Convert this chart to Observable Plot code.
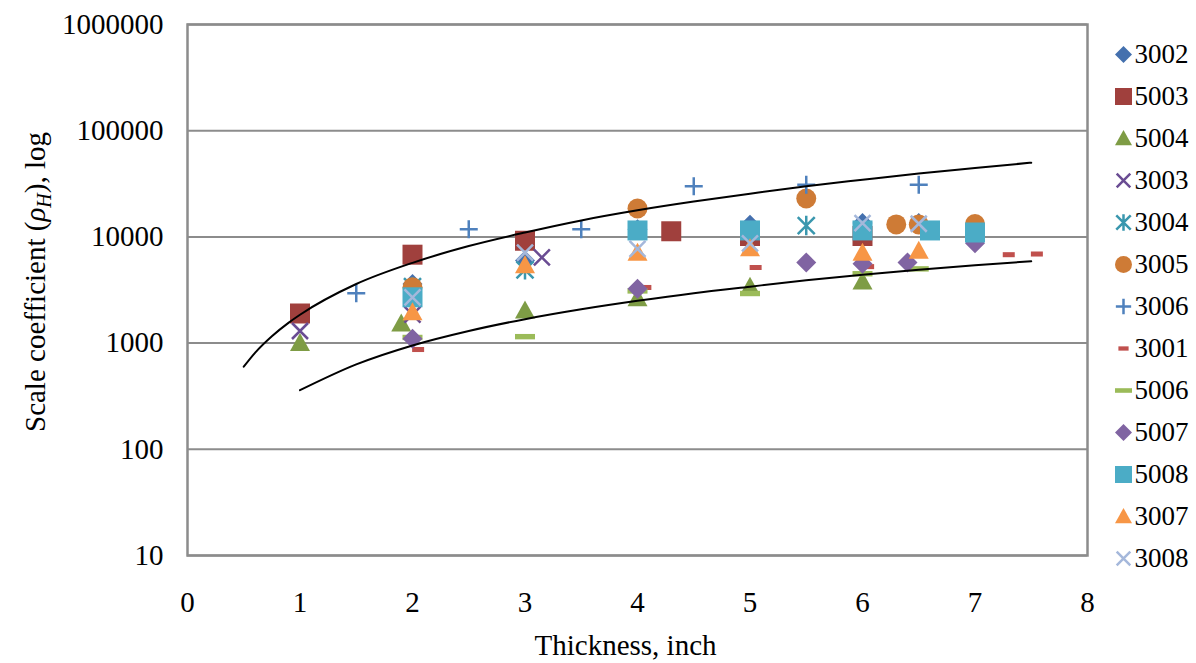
<!DOCTYPE html>
<html>
<head>
<meta charset="utf-8">
<script src="https://cdn.jsdelivr.net/npm/d3@7"></script>
<script src="https://cdn.jsdelivr.net/npm/@observablehq/plot@0.6"></script>
<style>
  body { margin: 0; background: #fff; }
  #wrap { position: relative; width: 1196px; height: 663px; }
  #legend { position: absolute; left: 1100px; top: 0; }
</style>
</head>
<body>
<div id="wrap"><div id="main"></div><div id="legend"></div></div>
<script>
// ---- data ----
const seriesNames = ["3002","5003","5004","3003","3004","3005","3006","3001","5006","5007","5008","3007","3008"];
const xTicks = [0,1,2,3,4,5,6,7,8];
const yTicks = [10,100,1000,10000,100000,1000000];

const s3002 = [[2,3600],[3,6000],[4,11800],[5,13000],[6,13500],[6.5,13500]];
const s5003 = [[1,1900],[2,6800],[3,9200],[4.3,11300],[5,10200],[6,10200]];
const s5004 = [[1,1000],[1.9,1530],[3,2030],[4,2650],[5,3400],[6,3800]];
const s3003 = [[1,1300],[2,1850],[3.15,6400]];
const s3004 = [[2,3400],[3,4900],[5.5,12800]];
const s3005 = [[2,3350],[4,18500],[5.5,23000],[6.3,13100],[6.5,13100],[7,13200]];
const s3006 = [[1.5,2950],[2.5,11800],[3.5,11800],[4.5,30000],[5.5,31000],[6.5,31000]];
const s3001 = [[2.05,870],[4.07,3340],[5.05,5150],[6.05,5250],[7.3,6800],[7.55,6900]];
const s5006 = [[2,1130],[3,1150],[4,3100],[5,2930],[6,4500],[6.5,5000]];
const s5007 = [[2,1100],[4,3250],[5.5,5750],[6,5600],[6.4,5750],[7,8700]];
const s5008 = [[2,2700],[4,11500],[5,11500],[6,11500],[6.6,11500],[7,11000]];
const s3007 = [[2,1950],[3,5400],[4,7100],[5,7800],[6,7100],[6.5,7400]];
const s3008 = [[2,2700],[3,7100],[4,7700],[5,8700],[6,13500],[6.5,13300]];
const seriesData = [s3002,s5003,s5004,s3003,s3004,s3005,s3006,s3001,s5006,s5007,s5008,s3007,s3008];

const upperX = [0.5,0.6,0.75,0.9,1,1.5,2,2.5,3,3.5,4,4.5,5,5.5,6,6.5,7,7.5];
const upperY = [600,810,1160,1560,1850,3600,5700,8200,11000,14300,17800,21500,25500,30000,34500,39500,44500,50000];
const lowerX = [1,1.5,2,2.5,3,3.5,4,4.5,5,5.5,6,6.5,7,7.5];
const lowerY = [360,630,950,1300,1680,2080,2500,2950,3400,3900,4400,4900,5400,5900];

// ---- styles ----
const seriesColors = ["#4470AE","#A0403D","#7E9C45","#6A4C93","#3A97AE","#CE7B36","#4F81BD","#C0504D","#9BBB59","#8064A2","#4BACC6","#F79646","#A5B8DB"];
const seriesShapes = ["diamond","square","triangle","times","asterisk","circle","plus","dashS","dashL","diamond","square","triangle","times"];
const shapeR = {diamond:10, square:10, triangle:10, times:8, asterisk:8.5, circle:10, plus:9, dashS:6, dashL:10};
const strokeShapes = new Set(["times","asterisk","plus"]);

function mk(fn){ return {draw(ctx,size){ const r=Math.sqrt(size/Math.PI); fn(ctx,r); }}; }
const SYM = {
  diamond: mk((c,r)=>{c.moveTo(0,-r);c.lineTo(r,0);c.lineTo(0,r);c.lineTo(-r,0);c.closePath();}),
  square: mk((c,r)=>{c.rect(-r,-r,2*r,2*r);}),
  triangle: mk((c,r)=>{c.moveTo(0,-r);c.lineTo(r,r*0.8);c.lineTo(-r,r*0.8);c.closePath();}),
  times: mk((c,r)=>{c.moveTo(-r,-r);c.lineTo(r,r);c.moveTo(r,-r);c.lineTo(-r,r);}),
  asterisk: mk((c,r)=>{c.moveTo(-r,-r);c.lineTo(r,r);c.moveTo(r,-r);c.lineTo(-r,r);c.moveTo(0,-r*1.15);c.lineTo(0,r*1.15);}),
  circle: mk((c,r)=>{c.moveTo(r,0);c.arc(0,0,r,0,2*Math.PI);}),
  plus: mk((c,r)=>{c.moveTo(-r,0);c.lineTo(r,0);c.moveTo(0,-r);c.lineTo(0,r);}),
  dashS: mk((c,r)=>{c.rect(-r,-r*0.42,2*r,r*0.84);}),
  dashL: mk((c,r)=>{c.rect(-r,-r*0.27,2*r,r*0.54);})
};

function dotOpts(i, scale){
  const shape = seriesShapes[i];
  const o = {symbol: SYM[shape], r: shapeR[shape]*scale};
  if (strokeShapes.has(shape)) { o.fill = "none"; o.stroke = seriesColors[i]; o.strokeWidth = 2.5; }
  else { o.fill = seriesColors[i]; o.stroke = "none"; }
  return o;
}

const FONT = "Liberation Serif, Times New Roman, serif";

const upper = upperX.map((x,i)=>({x, y: upperY[i]}));
const lower = lowerX.map((x,i)=>({x, y: lowerY[i]}));

const main = Plot.plot({
  width: 1196, height: 663,
  marginLeft: 187, marginRight: 109, marginTop: 24, marginBottom: 108,
  style: {fontFamily: FONT, fontSize: "29px", color: "#000", background: "#fff"},
  x: {domain: [0,8]},
  y: {type: "log", domain: [10, 1000000]},
  marks: [
    Plot.gridY(yTicks, {stroke: "#8c8c8c", strokeOpacity: 1, strokeWidth: 2}),
    Plot.frame({stroke: "#8c8c8c", strokeWidth: 2.5}),
    Plot.axisX({ticks: xTicks, tickSize: 0, tickPadding: 36, tickFormat: d => String(d), label: null, fontSize: 29}),
    Plot.axisY({ticks: yTicks, tickSize: 0, tickPadding: 24, tickFormat: d => String(d), label: null, fontSize: 29}),
    ...seriesData.map((s,i) => Plot.dot(s, {x: d => d[0], y: d => d[1], ...dotOpts(i, 1)})),
    Plot.line(upper, {x: "x", y: "y", curve: "monotone-x", stroke: "#000", strokeWidth: 2}),
    Plot.line(lower, {x: "x", y: "y", curve: "monotone-x", stroke: "#000", strokeWidth: 2}),
    Plot.text(["Thickness, inch"], {frameAnchor: "bottom", textAnchor: "middle", lineAnchor: "middle", dx: -12, dy: 90, fontSize: 29, fill: "#000"}),
    Plot.text(["Scale coefficient (ρH), log"], {
      frameAnchor: "left", textAnchor: "middle", lineAnchor: "middle",
      dx: -152, dy: -8, rotate: -90, fontSize: 29, fill: "#000",
      render(index, scales, values, dims, ctx, next) {
        const g = next(index, scales, values, dims, ctx);
        const t = g.querySelector("text");
        if (t) {
          const ns = "http://www.w3.org/2000/svg";
          t.textContent = "";
          const parts = [
            {s: "Scale coefficient ("},
            {s: "ρ", it: true},
            {s: "H", it: true, sub: true},
            {s: "), log", up: true}
          ];
          for (const p of parts) {
            const ts = document.createElementNS(ns, "tspan");
            ts.textContent = p.s;
            if (p.it) ts.setAttribute("font-style", "italic");
            if (p.sub) { ts.setAttribute("font-size", "20px"); ts.setAttribute("dy", "0.3em"); }
            if (p.up) { ts.setAttribute("dy", "-0.2em"); }
            t.appendChild(ts);
          }
        }
        return g;
      }
    })
  ]
});
document.getElementById("main").appendChild(main);

const legend = Plot.plot({
  width: 96, height: 663,
  marginLeft: 0, marginRight: 0, marginTop: 0, marginBottom: 0,
  style: {fontFamily: FONT, fontSize: "27px", color: "#000", background: "transparent"},
  y: {type: "point", domain: seriesNames, range: [51, 561], padding: 0, axis: null},
  marks: [
    ...seriesNames.map((n,i) => Plot.dot([n], {y: d => d, frameAnchor: "left", dx: 23, ...dotOpts(i, 0.85)})),
    Plot.text(seriesNames, {y: d => d, text: d => d, frameAnchor: "left", dx: 34, textAnchor: "start", lineAnchor: "middle", fontSize: 27, fill: "#000"})
  ]
});
document.getElementById("legend").appendChild(legend);
</script>
</body>
</html>
